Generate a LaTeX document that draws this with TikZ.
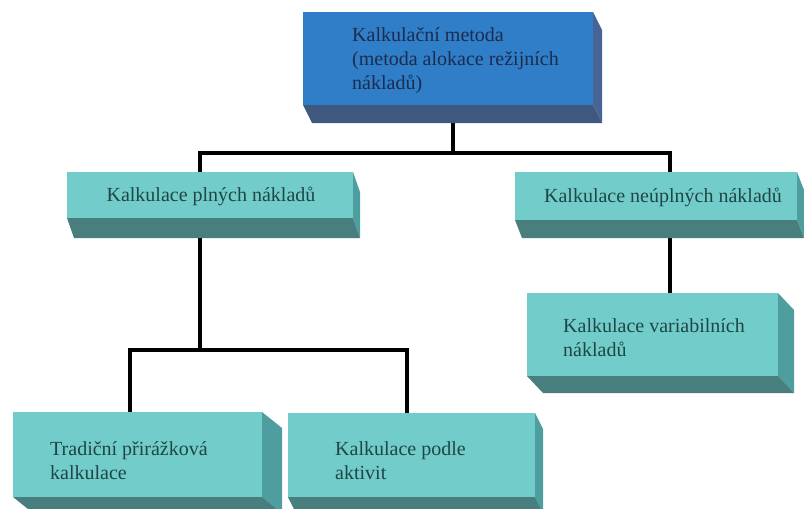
\documentclass[tikz,border=0pt]{standalone}
\usepackage{fontspec}
\setmainfont{Liberation Serif}
\usetikzlibrary{calc,backgrounds}
\definecolor{blueF}{RGB}{47,126,199}
\definecolor{blueS}{RGB}{72,100,150}
\definecolor{blueB}{RGB}{62,88,128}
\definecolor{cyanF}{RGB}{114,205,202}
\definecolor{cyanS}{RGB}{78,158,160}
\definecolor{cyanB}{RGB}{72,126,126}
\definecolor{txtB}{RGB}{28,44,78}
\definecolor{txtC}{RGB}{30,70,70}
\newcommand\mycuboid[5]{%
  \fill[#4] (#1.north east) -- ++(#2,#3) -- ($(#1.south east)+(#2,#3)$) -- (#1.south east) -- cycle;
  \fill[#5] (#1.south west) -- (#1.south east) -- ++(#2,#3) -- ($(#1.south west)+(#2,#3)$) -- cycle;
}
\tikzset{
  face/.style={inner sep=0pt, outer sep=0pt, draw=none},
  bluebox/.style={face, fill=blueF},
  cyanbox/.style={face, fill=cyanF},
  lbl/.style={font=\fontsize{20}{24}\selectfont, align=left, inner sep=0pt, anchor=west},
  conn/.style={draw=black, line width=4pt}
}
\begin{document}
\begin{tikzpicture}[x=1pt,y=-1pt]
\useasboundingbox (0,0) rectangle (804,509);
\clip (0,0) rectangle (804,509);
% front faces
\node[bluebox, minimum width=290pt, minimum height=93pt] (top) at (448,58.5) {};
\node[cyanbox, minimum width=286pt, minimum height=46pt] (plny) at (210,195) {};
\node[cyanbox, minimum width=282pt, minimum height=48pt] (neuplny) at (656,196) {};
\node[cyanbox, minimum width=251pt, minimum height=83pt] (var) at (652.5,334.5) {};
\node[cyanbox, minimum width=249pt, minimum height=85pt] (trad) at (137.5,454.5) {};
\node[cyanbox, minimum width=247pt, minimum height=84pt] (akt) at (411.5,455) {};
% extruded faces
\mycuboid{top}{9}{18}{blueS}{blueB}
\mycuboid{plny}{7}{20}{cyanS}{cyanB}
\mycuboid{neuplny}{7}{18}{cyanS}{cyanB}
\mycuboid{var}{16}{17}{cyanS}{cyanB}
\mycuboid{trad}{20}{16}{cyanS}{cyanB}
\mycuboid{akt}{8}{16}{cyanS}{cyanB}
% labels
\node[lbl, text=txtB] (ttop) at (352,61) {Kalkulační metoda\\(metoda alokace režijních\\nákladů)};
\node[lbl, text=txtC, anchor=center] (tplny) at (211,196) {Kalkulace plných nákladů};
\node[lbl, text=txtC, anchor=center] (tneup) at (663,197) {Kalkulace neúplných nákladů};
\node[lbl, text=txtC] (tvar) at (563,338) {Kalkulace variabilních\\nákladů};
\node[lbl, text=txtC] (ttrad) at (50,461) {Tradiční přirážková\\kalkulace};
\node[lbl, text=txtC] (takt) at (335,461) {Kalkulace podle\\aktivit};
% connectors
\begin{pgfonlayer}{background}
\draw[conn] ([xshift=5pt]top.south) -- ++(0,48) -| ([xshift=-10pt]plny.north);
\draw[conn] ([xshift=5pt]top.south) -- ++(0,48) -| ([xshift=14pt]neuplny.north);
\draw[conn] ([xshift=-10pt]plny.south) -- ++(0,132) -| ([xshift=-7.5pt]trad.north);
\draw[conn] ([xshift=-10pt]plny.south) -- ++(0,132) -| ([xshift=-4.5pt]akt.north);
\draw[conn] ([xshift=14pt]neuplny.south) -- ([xshift=14pt]neuplny.south |- var.north);
\end{pgfonlayer}
\end{tikzpicture}
\end{document}
